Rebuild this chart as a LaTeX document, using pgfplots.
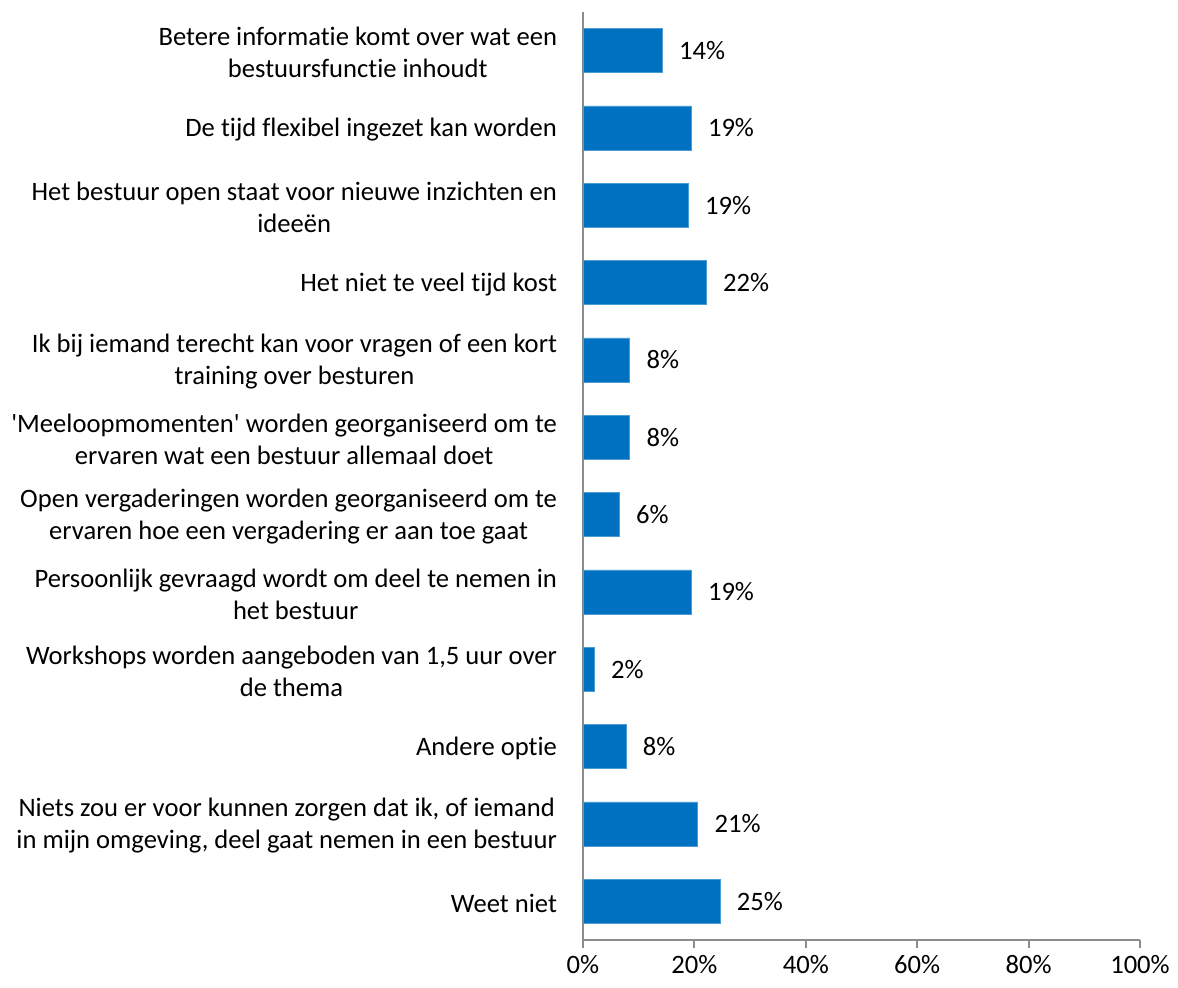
\documentclass[border=0pt]{standalone}
\usepackage{fontspec}
\setmainfont{Carlito}[Ligatures=CommonOff]
\usepackage{pgfplots}
\pgfplotsset{compat=1.18}
\usepackage{pgfplotstable}
\definecolor{barblue}{HTML}{0070C0}
\definecolor{axgray}{HTML}{8C8C8C}
\pgfplotstableread{
y val lab
11 14.2 14
10 19.4 19
9 18.9 19
8 22.1 22
7 8.4 8
6 8.4 8
5 6.5 6
4 19.4 19
3 2.0 2
2 7.7 8
1 20.6 21
0 24.6 25
}\datatable
\begin{document}%
\begin{tikzpicture}[font=\fontsize{13.3pt}{16pt}\selectfont]
\useasboundingbox (-291.5pt,-24pt) rectangle (297.5pt,470pt);
\begin{axis}[
  at={(0pt,0pt)}, anchor=south west,
  scale only axis,
  width=278.5pt, height=464pt,
  xbar, bar width=22pt,
  xmin=0, xmax=100,
  ymin=-0.5, ymax=11.5,
  axis x line*=bottom, axis y line*=left,
  axis line style={axgray, line width=1pt},
  xtick={0,20,40,60,80,100},
  xticklabels={0\%,20\%,40\%,60\%,80\%,100\%},
  tick align=outside,
  major tick length=4pt,
  x tick style={axgray, line width=1pt},
  xticklabel style={font=\fontsize{13.3pt}{16pt}\selectfont, yshift=0pt},
  ytick={0,...,11},
  y tick style={draw=none},
  yticklabels={
    Weet niet,
    {Niets zou er voor kunnen zorgen dat ik, of iemand\\in mijn omgeving, deel gaat nemen in een bestuur},
    Andere optie,
    {Workshops worden aangeboden van 1,5 uur over\\de thema},
    {Persoonlijk gevraagd wordt om deel te nemen in\\het bestuur},
    {Open vergaderingen worden georganiseerd om te\\ervaren hoe een vergadering er aan toe gaat},
    {\textquotesingle Meeloopmomenten\textquotesingle{} worden georganiseerd om te\\ervaren wat een bestuur allemaal doet},
    {Ik bij iemand terecht kan voor vragen of een kort\\training over besturen},
    Het niet te veel tijd kost,
    {Het bestuur open staat voor nieuwe inzichten en\\ideeën},
    De tijd flexibel ingezet kan worden,
    {Betere informatie komt over wat een\\bestuursfunctie inhoudt}
  },
  yticklabel style={align=center, font=\fontsize{13.3pt}{16pt}\selectfont, xshift=-5.5pt, yshift=-1pt},
  nodes near coords={\pgfplotspointmeta\%},
  point meta=explicit symbolic,
  every node near coord/.append style={font=\fontsize{13.3pt}{16pt}\selectfont, anchor=west, xshift=5pt, black},
  clip=false,
]
\addplot[fill=barblue, draw=barblue!70!white, line width=0.3pt] table[x=val, y=y, meta=lab] {\datatable};
\end{axis}
\end{tikzpicture}%
\end{document}
